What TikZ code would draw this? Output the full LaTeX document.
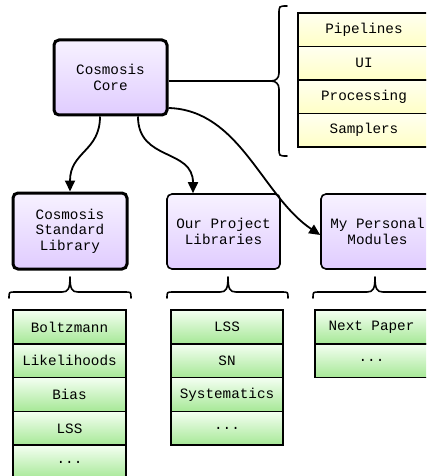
\documentclass[tikz,border=0pt]{standalone}
\usepackage{fontspec}
\setmonofont{Liberation Mono}
\usetikzlibrary{arrows.meta}
\definecolor{purptop}{HTML}{F7F2FF}
\definecolor{purpbot}{HTML}{E0CCFF}
\definecolor{yeltop}{HTML}{FFFFF0}
\definecolor{yelbot}{HTML}{FFFFC6}
\definecolor{grntop}{HTML}{F4FFF2}
\definecolor{grnbot}{HTML}{A6E896}
\tikzset{
  txt/.style={font=\ttfamily\fontsize{14.3}{15.5}\selectfont, align=center, text=black},
  modbox/.style={txt, draw=black, rounded corners=5pt, top color=purptop, bottom color=purpbot,
    minimum width=113pt, minimum height=75pt, inner sep=0pt},
  thickbox/.style={modbox, line width=3pt},
  thinbox/.style={modbox, line width=1.6pt},
  yelrow/.style={txt, draw=black, line width=1.6pt, top color=yeltop, bottom color=yelbot,
    minimum width=132pt, minimum height=33.5pt, inner sep=0pt},
  grnrow/.style={txt, draw=black, line width=1.6pt, top color=grntop, bottom color=grnbot,
    minimum height=33.8pt, inner sep=0pt},
  arr/.style={line width=1.8pt, -{Triangle[length=11pt,width=10pt]}},
  bracepath/.style={line width=1.6pt, line cap=round, line join=round}
}
\begin{document}
\begin{tikzpicture}[x=1pt,y=-1pt]
\useasboundingbox (0,0) rectangle (426,476);
\clip (0,0) rectangle (426,476);
\fill[white] (0,0) rectangle (426,476);

% main modules
\node[thickbox] (core) at (110.5,77.5) {Cosmosis\\Core};
\node[thickbox, minimum width=114pt, minimum height=76pt] (std) at (70,231) {Cosmosis\\Standard\\Library};
\node[thinbox] (our) at (223.5,231.5) {Our Project\\Libraries};
\node[thinbox] (pers) at (377.5,231.5) {My Personal\\Modules};

% core components
\node[yelrow] (y1) at (364,29.75) {Pipelines};
\node[yelrow] (y2) at (364,63.25) {UI};
\node[yelrow] (y3) at (364,96.75) {Processing};
\node[yelrow] (y4) at (364,130.25) {Samplers};

% standard library stack
\node[grnrow, minimum width=113pt] (s1) at (69.5,326.9) {Boltzmann};
\node[grnrow, minimum width=113pt] (s2) at (69.5,360.7) {Likelihoods};
\node[grnrow, minimum width=113pt] (s3) at (69.5,394.5) {Bias};
\node[grnrow, minimum width=113pt] (s4) at (69.5,428.3) {LSS};
\node[grnrow, minimum width=113pt] (s5) at (69.5,462.1) {...};

% project stack
\node[grnrow, minimum width=112pt] (o1) at (227,326.9) {LSS};
\node[grnrow, minimum width=112pt] (o2) at (227,360.7) {SN};
\node[grnrow, minimum width=112pt] (o3) at (227,394.5) {Systematics};
\node[grnrow, minimum width=112pt] (o4) at (227,428.3) {...};

% personal stack
\node[grnrow, minimum width=113pt] (p1) at (371.5,326.9) {Next Paper};
\node[grnrow, minimum width=113pt] (p2) at (371.5,360.7) {...};

% core brace
\coordinate (coretip) at (271,81);
\draw[bracepath] (287,6) .. controls (279,6) .. (279,14) -- (279,73)
  .. controls (279,78) and (276,81) .. (coretip)
  .. controls (276,81) and (279,84) .. (279,89) -- (279,148)
  .. controls (279,156) .. (287,156);
\draw[line width=1.6pt] (core.east |- coretip) -- (coretip);

% lower braces
\draw[bracepath] (9,298) .. controls (9,292) .. (15,292) -- (62,292)
  .. controls (68,292) and (70,289) .. (70,277)
  .. controls (70,289) and (72,292) .. (78,292) -- (125,292)
  .. controls (131,292) .. (131,298);
\draw[bracepath] (167,298) .. controls (167,292) .. (173,292) -- (220,292)
  .. controls (226,292) and (228,289) .. (228,277)
  .. controls (228,289) and (230,292) .. (236,292) -- (282,292)
  .. controls (288,292) .. (288,298);
\draw[bracepath] (313,298) .. controls (313,292) .. (319,292) -- (367,292)
  .. controls (373,292) and (375,289) .. (375,277)
  .. controls (375,289) and (377,292) .. (383,292) -- (432,292)
  .. controls (438,292) .. (438,298);

% arrows
\draw[arr] ([xshift=-10.5pt]core.south) .. controls +(0,35) and +(0,-40) .. (std.north);
\draw[arr] ([xshift=27.5pt]core.south) .. controls +(0,45) and +(0,-45) .. ([xshift=-30.5pt]our.north);
\draw[arr] ([yshift=-30.5pt]core.east) .. controls (240,110) and (262,196) .. ([yshift=-3.5pt]pers.west);
\end{tikzpicture}
\end{document}
